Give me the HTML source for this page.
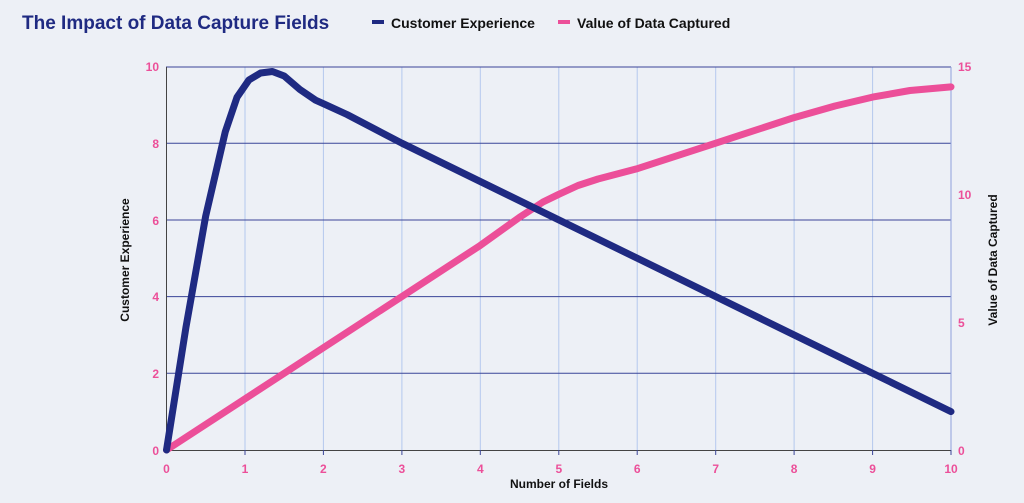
<!DOCTYPE html><html><head><style>body{margin:0;background:#edf0f6}</style></head><body>
<svg width="1024" height="498" xmlns="http://www.w3.org/2000/svg" font-family="Liberation Sans, sans-serif" font-weight="bold">
<rect width="1024" height="498" fill="#edf0f6"/>
<text x="22" y="29" font-size="19" fill="#1f2a82">The Impact of Data Capture Fields</text>
<rect x="372" y="20" width="12" height="4" fill="#1f2a82"/>
<text x="391" y="28" font-size="14" fill="#111">Customer Experience</text>
<rect x="558" y="20" width="12" height="4" fill="#ec4f99"/>
<text x="577" y="28" font-size="14" fill="#111">Value of Data Captured</text>
<g stroke="#b4c8ee" stroke-width="1">
<line x1="245" y1="67" x2="245" y2="450"/><line x1="323.4" y1="67" x2="323.4" y2="450"/><line x1="401.9" y1="67" x2="401.9" y2="450"/><line x1="480.3" y1="67" x2="480.3" y2="450"/><line x1="558.8" y1="67" x2="558.8" y2="450"/><line x1="637.2" y1="67" x2="637.2" y2="450"/><line x1="715.7" y1="67" x2="715.7" y2="450"/><line x1="794.1" y1="67" x2="794.1" y2="450"/><line x1="872.6" y1="67" x2="872.6" y2="450"/></g>
<g stroke="#3a4598" stroke-width="1">
<line x1="166" y1="67" x2="951" y2="67"/><line x1="166" y1="143.3" x2="951" y2="143.3"/><line x1="166" y1="220" x2="951" y2="220"/><line x1="166" y1="296.6" x2="951" y2="296.6"/><line x1="166" y1="373.3" x2="951" y2="373.3"/><line x1="951" y1="67" x2="951" y2="450" stroke="#8ea0dc"/></g>
<line x1="166.5" y1="67" x2="166.5" y2="451" stroke="#444" stroke-width="1"/>
<line x1="166" y1="450.5" x2="951" y2="450.5" stroke="#444" stroke-width="1"/>
<g stroke="#3a4598"><line x1="245" y1="450" x2="245" y2="455"/><line x1="323.4" y1="450" x2="323.4" y2="455"/><line x1="401.9" y1="450" x2="401.9" y2="455"/><line x1="480.3" y1="450" x2="480.3" y2="455"/><line x1="558.8" y1="450" x2="558.8" y2="455"/><line x1="637.2" y1="450" x2="637.2" y2="455"/><line x1="715.7" y1="450" x2="715.7" y2="455"/><line x1="794.1" y1="450" x2="794.1" y2="455"/><line x1="872.6" y1="450" x2="872.6" y2="455"/><line x1="951" y1="450" x2="951" y2="455"/></g>
<g font-size="12" fill="#ec4f99" text-anchor="middle">
<text x="166.5" y="473">0</text><text x="245" y="473">1</text><text x="323.4" y="473">2</text><text x="401.9" y="473">3</text><text x="480.3" y="473">4</text><text x="558.8" y="473">5</text><text x="637.2" y="473">6</text><text x="715.7" y="473">7</text><text x="794.1" y="473">8</text><text x="872.6" y="473">9</text><text x="951" y="473">10</text></g>
<g font-size="12" fill="#ec4f99" text-anchor="end">
<text x="159" y="455">0</text><text x="159" y="378">2</text><text x="159" y="301">4</text><text x="159" y="225">6</text><text x="159" y="148">8</text><text x="159" y="71">10</text></g>
<g font-size="12" fill="#ec4f99" text-anchor="start">
<text x="958" y="455">0</text><text x="958" y="327">5</text><text x="958" y="199">10</text><text x="958" y="71">15</text></g>
<text x="559" y="488" font-size="12" fill="#111" text-anchor="middle">Number of Fields</text>
<text transform="translate(129,260) rotate(-90)" font-size="12" fill="#111" text-anchor="middle">Customer Experience</text>
<text transform="translate(997,260) rotate(-90)" font-size="12" fill="#111" text-anchor="middle">Value of Data Captured</text>
<polyline fill="none" stroke="#ec4f99" stroke-width="7" stroke-linejoin="round" stroke-linecap="round" points="166.5,450 480.3,245.4 519.5,217.3 543,202 558.8,194.3 578,185.5 598,179 637.2,168.7 715.7,143.2 794.1,117.6 835,106 872.6,97.1 910,90.5 951,86.9"/>
<polyline fill="none" stroke="#1f2a82" stroke-width="7" stroke-linejoin="round" stroke-linecap="round" points="166.5,450 186,327 205.7,216 225.3,131.7 237,97.2 248.9,80 260.6,73 272.4,71.5 284.2,76 299.9,89.5 315.6,100.2 323.4,103.7 347,114.5 401.9,143.2 951,411.6"/>
</svg></body></html>
